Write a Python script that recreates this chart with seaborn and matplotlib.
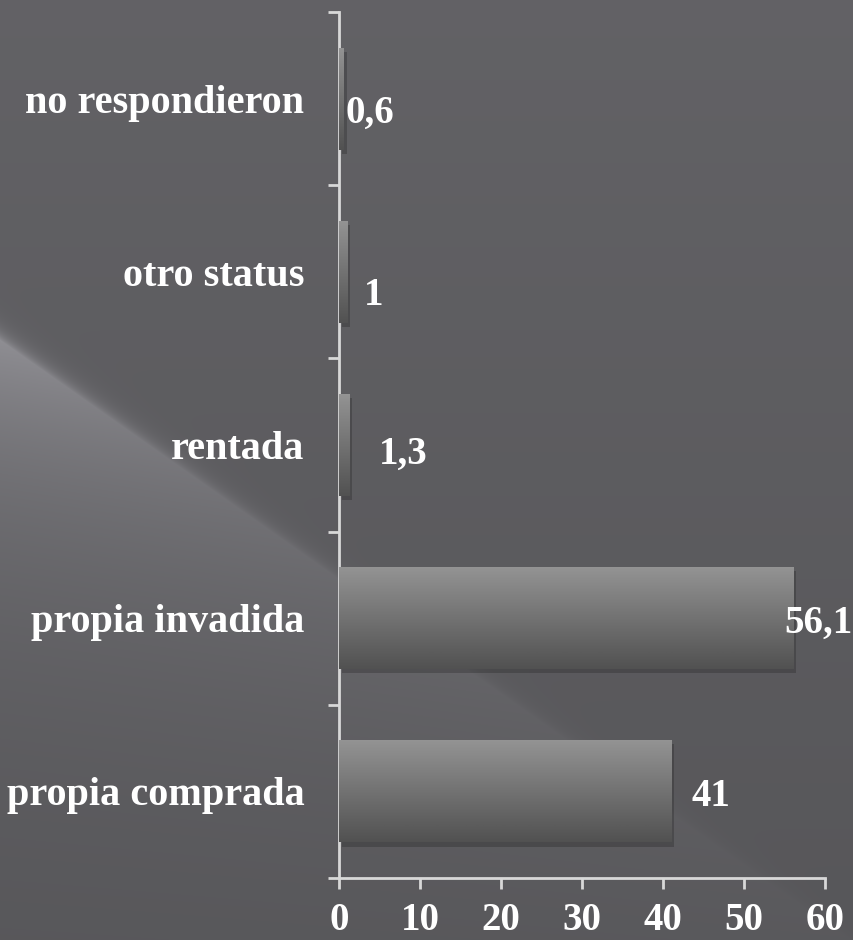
import numpy as np
import pandas as pd
import matplotlib
matplotlib.use("Agg")
import matplotlib.pyplot as plt
import matplotlib.patheffects as pe
import seaborn as sns

# --- datos ---
categorias = ["no respondieron", "otro status", "rentada", "propia invadida", "propia comprada"]
valores = [0.6, 1, 1.3, 56.1, 41]
etiquetas = ["0,6", "1", "1,3", "56,1", "41"]
x_ticks = [0, 10, 20, 30, 40, 50, 60]

# desplazamiento de las etiquetas (pixeles desde el final de la barra)
label_offsets = [(2, -15), (17, -24), (29, -9), (-9, -5), (20, -5)]

df = pd.DataFrame({"categoria": categorias, "valor": valores})

sns.set_style("white")
plt.rcParams["font.family"] = ["Liberation Serif", "DejaVu Serif"]
plt.rcParams["font.weight"] = "bold"

fig = plt.figure(figsize=(8.54, 9.40), dpi=100)

# --- fondo con degradado y brillo diagonal ---
bg = fig.add_axes([0, 0, 1, 1], zorder=-1)
H, W = 940, 854
yy, xx = np.mgrid[0:H, 0:W].astype(float)
base = 0.39 - 0.045 * (yy / H)
# linea del brillo: de (0, 340) a (340, 580)
d = (yy - (340 + xx * 240 / 340)) / np.sqrt(1 + (240 / 340) ** 2)
glow = np.where(d > 0, np.exp(-d / 130), np.exp(d / 8))
glow *= np.exp(-xx / 300) * 0.19
img = np.clip(base + glow, 0, 1)
rgb = np.dstack([img * 0.99, img * 0.985, img * 1.02])
bg.imshow(np.clip(rgb, 0, 1), aspect="auto", extent=[0, 1, 0, 1])
bg.axis("off")

ax = fig.add_axes([339 / 854, 1 - 878 / 940, (825 - 339) / 854, (878 - 12) / 940])
ax.patch.set_alpha(0)

sns.barplot(data=df, x="valor", y="categoria", orient="h", width=0.59,
            color="#777777", linewidth=0, ax=ax, zorder=2)

# degradado vertical dentro de cada barra
grad = np.linspace(0.58, 0.32, 256).reshape(-1, 1)
for p in ax.patches:
    x0, y0 = p.get_x(), p.get_y()
    w, h = p.get_width(), p.get_height()
    p.set_path_effects([pe.SimplePatchShadow(offset=(2, -3), alpha=0.3, shadow_rgbFace="#222222"),
                        pe.Normal()])
    im = ax.imshow(grad, cmap="gray", vmin=0, vmax=1, aspect="auto",
                   extent=[x0, x0 + w, y0 + h, y0], zorder=3)
    im.set_clip_path(p)

ax.set_xlim(0, 60)
ax.set_ylim(4.5, -0.5)

# etiquetas de valor
for i, (v, t) in enumerate(zip(valores, etiquetas)):
    dx, dy = label_offsets[i]
    ax.annotate(t, xy=(v, i), xytext=(dx, dy), textcoords="offset pixels",
                ha="left", va="center", color="white", fontsize=28,
                fontweight="bold", zorder=5, annotation_clip=False)

# ejes
for s in ["top", "right"]:
    ax.spines[s].set_visible(False)
for s in ["left", "bottom"]:
    ax.spines[s].set_color("#d8d8d8")
    ax.spines[s].set_linewidth(2)

ax.set_xticks(x_ticks)
ax.set_xticklabels([str(t) for t in x_ticks])
ax.tick_params(axis="x", bottom=True, direction="out", length=8, width=2, color="#d8d8d8",
               labelcolor="white", labelsize=28, pad=9)

ax.set_yticks(range(len(categorias)))
ax.set_yticklabels(categorias)
ax.set_yticks(np.arange(-0.5, len(categorias), 1), minor=True)
ax.tick_params(axis="y", which="major", left=True, length=0, labelcolor="white", labelsize=29, pad=25)
ax.tick_params(axis="y", which="minor", left=True, direction="out", length=8, width=2, color="#d8d8d8")
for lbl in ax.get_xticklabels() + ax.get_yticklabels():
    lbl.set_fontweight("bold")

ax.set_xlabel("")
ax.set_ylabel("")

fig.savefig("out.png", dpi=100)
